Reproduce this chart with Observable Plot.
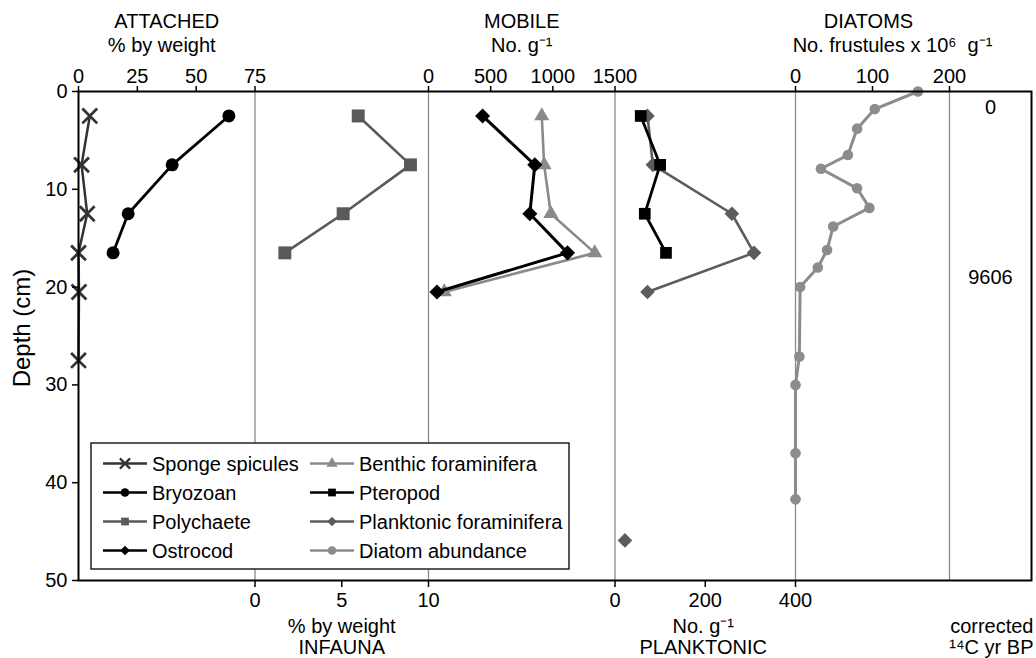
<!DOCTYPE html>
<html>
<head>
<meta charset="utf-8">
<script src="https://cdn.jsdelivr.net/npm/d3@7"></script>
<script src="https://cdn.jsdelivr.net/npm/@observablehq/plot@0.6"></script>
<style>
  html, body { margin: 0; padding: 0; background: #fff; overflow: hidden; }
  #chart { width: 1036px; height: 658px; }
</style>
</head>
<body>
<div id="chart"></div>
<script>
// ---------------- DATA ----------------
// Depth (cm) of samples and values per series
const spongeDepth = [2.5, 7.5, 12.5, 16.5, 20.5, 27.5];
const spongeValue = [4.8, 1.3, 3.7, 0, 0.2, 0];            // % by weight (attached)

const bryozoanDepth = [2.5, 7.5, 12.5, 16.5];
const bryozoanValue = [63.9, 39.8, 21.1, 14.7];            // % by weight (attached)

const polychaeteDepth = [2.5, 7.5, 12.5, 16.5];
const polychaeteValue = [5.95, 8.96, 5.08, 1.72];          // % by weight (infauna)

const ostracodDepth = [2.5, 7.5, 12.5, 16.5, 20.5];
const ostracodValue = [435, 855, 815, 1118, 68];           // No. g-1 (mobile)

const benthicDepth = [2.5, 7.5, 12.5, 16.5, 20.5];
const benthicValue = [911, 930, 984, 1337, 127];           // No. g-1 (mobile)

const pteropodDepth = [2.5, 7.5, 12.5, 16.5];
const pteropodValue = [57, 100, 66, 113];                  // No. g-1 (planktonic)

const planktonicDepth = [2.5, 7.5, 12.5, 16.5, 20.5, null, 45.9];
const planktonicValue = [72, 84, 259, 308, 72, null, 22];  // No. g-1 (planktonic); null = gap

const diatomDepth = [0, 1.8, 3.8, 6.5, 7.9, 9.9, 11.9, 13.8, 16.2, 18.0, 20.0, 27.1, 30.0, 37.0, 41.7];
const diatomValue = [159, 103, 80, 68, 33, 80, 96, 49, 41, 29, 6, 5, 0, 0, 0]; // frustules x10^6 g-1

const ageDepth = [1.6, 19.0];
const ageLabel = ["0", "9606"];

const depthTicks = [0, 10, 20, 30, 40, 50];
const attachedTicks = [0, 25, 50, 75];
const mobileTicks = [0, 500, 1000, 1500];
const diatomTicks = [0, 100, 200];
const infaunaTicks = [0, 5, 10];
const planktonicTicks = [0, 200, 400];

// ---------------- LAYOUT ----------------
const W = 953; // virtual width of the frame
const panels = {
  attached:   {domain: [0, 75],   range: [0, 176.5]},
  infauna:    {domain: [0, 10],   range: [176.5, 350]},
  mobile:     {domain: [0, 1500], range: [350, 536.5]},
  planktonic: {domain: [0, 400],  range: [536.5, 717]},
  diatoms:    {domain: [0, 200],  range: [717, 871]}
};
const pos = Object.fromEntries(Object.entries(panels).map(([k, p]) => [k, d3.scaleLinear(p.domain, p.range)]));
const center = k => (panels[k].range[0] + panels[k].range[1]) / 2;

const series = [
  {name: "Sponge spicules", panel: "attached", depth: spongeDepth, value: spongeValue, color: "#333", width: 2.5, symbol: "times", r: 6.8, stroke: true, col: 0, row: 0},
  {name: "Bryozoan", panel: "attached", depth: bryozoanDepth, value: bryozoanValue, color: "#000", width: 2.8, symbol: "circle", r: 6.5, col: 0, row: 1},
  {name: "Polychaete", panel: "infauna", depth: polychaeteDepth, value: polychaeteValue, color: "#5a5a5a", width: 2.6, symbol: "square", r: 7.3, col: 0, row: 2},
  {name: "Benthic foraminifera", panel: "mobile", depth: benthicDepth, value: benthicValue, color: "#8a8a8a", width: 2.6, symbol: "triangle", r: 5.6, col: 1, row: 0},
  {name: "Ostrocod", panel: "mobile", depth: ostracodDepth, value: ostracodValue, color: "#000", width: 3, symbol: "diamond2", r: 6.8, col: 0, row: 3},
  {name: "Planktonic foraminifera", panel: "planktonic", depth: planktonicDepth, value: planktonicValue, color: "#5c5c5c", width: 2.6, symbol: "diamond2", r: 6.6, col: 1, row: 2},
  {name: "Pteropod", panel: "planktonic", depth: pteropodDepth, value: pteropodValue, color: "#000", width: 2.8, symbol: "square", r: 6.6, col: 1, row: 1},
  {name: "Diatom abundance", panel: "diatoms", depth: diatomDepth, value: diatomValue, color: "#8c8c8c", width: 3, symbol: "circle", r: 5.3, col: 1, row: 3}
];

const marks = [];

// panel separators
const separators = [pos.attached(75), pos.infauna(10), pos.mobile(1500), pos.planktonic(400), pos.diatoms(200)];
marks.push(Plot.ruleX(separators, {stroke: "#8a8a8a", strokeWidth: 1.3}));

for (const s of series) {
  const rows = s.depth.map((d, i) => ({depth: d == null ? NaN : d, value: s.value[i]}));
  const xf = r => (r.value == null ? NaN : pos[s.panel](r.value));
  marks.push(Plot.line(rows, {x: xf, y: "depth", stroke: s.color, strokeWidth: s.width, curve: "linear"}));
  const valid = rows.filter(r => r.value != null);
  if (s.stroke) {
    marks.push(Plot.dot(valid, {x: xf, y: "depth", symbol: s.symbol, r: s.r, stroke: s.color, strokeWidth: 2.8, fill: "none"}));
  } else {
    marks.push(Plot.dot(valid, {x: xf, y: "depth", symbol: s.symbol, r: s.r, fill: s.color, stroke: "none"}));
  }
}

// age labels in right column
const ageX = (panels.diatoms.range[1] + W) / 2;
marks.push(Plot.text(ageDepth.map((d, i) => ({depth: d, t: ageLabel[i]})), {x: () => ageX, y: "depth", text: "t", fontSize: 20, lineAnchor: "middle", textAnchor: "middle"}));

marks.push(Plot.frame({stroke: "#000", strokeWidth: 2}));

// axes
marks.push(Plot.axisY(depthTicks, {tickSize: 6, tickPadding: 5, fontSize: 20, strokeWidth: 1.5, label: null}));

const topTicks = [
  ...attachedTicks.map(v => ({p: pos.attached(v), t: String(v)})),
  ...mobileTicks.map(v => ({p: pos.mobile(v), t: String(v)})),
  ...diatomTicks.map(v => ({p: pos.diatoms(v), t: String(v)}))
];
const topMap = new Map(topTicks.map(d => [d.p, d.t]));
marks.push(Plot.axisX(topTicks.map(d => d.p), {anchor: "top", tickSize: 6, tickPadding: 3, fontSize: 20, strokeWidth: 1.5, tickFormat: d => topMap.get(d), label: null}));

const botTicks = [
  ...infaunaTicks.map(v => ({p: pos.infauna(v), t: String(v)})),
  ...planktonicTicks.map(v => ({p: pos.planktonic(v), t: String(v)}))
];
const botMap = new Map(botTicks.map(d => [d.p, d.t]));
marks.push(Plot.axisX(botTicks.map(d => d.p), {anchor: "bottom", tickSize: 7, tickPadding: 5, fontSize: 20, strokeWidth: 1.5, tickFormat: d => botMap.get(d), label: null}));

// titles
const titles = [
  {x: center("attached"), t: "ATTACHED", fa: "top", dy: -70, dx: 0, ta: "middle"},
  {x: center("attached"), t: "% by weight", fa: "top", dy: -46, dx: -5, ta: "middle"},
  {x: center("mobile"), t: "MOBILE", fa: "top", dy: -70, dx: 0, ta: "middle"},
  {x: center("mobile"), t: "No. g\u207B\u00B9", fa: "top", dy: -46, dx: 0, ta: "middle"},
  {x: center("diatoms"), t: "DIATOMS", fa: "top", dy: -70, dx: -4, ta: "middle"},
  {x: center("diatoms"), t: "No. frustules x 10\u2076  g\u207B\u00B9", fa: "top", dy: -46, dx: 20, ta: "middle"},
  {x: center("infauna"), t: "% by weight", fa: "bottom", dy: 46, dx: 0, ta: "middle"},
  {x: center("infauna"), t: "INFAUNA", fa: "bottom", dy: 67, dx: 0, ta: "middle"},
  {x: center("planktonic"), t: "No. g\u207B\u00B9", fa: "bottom", dy: 46, dx: -2, ta: "middle"},
  {x: center("planktonic"), t: "PLANKTONIC", fa: "bottom", dy: 67, dx: -2, ta: "middle"},
  {x: W + 2, t: "corrected", fa: "bottom", dy: 46, dx: 0, ta: "end"},
  {x: W + 2, t: "\u00B9\u2074C yr BP", fa: "bottom", dy: 67, dx: 0, ta: "end"}
];
for (const d of titles) {
  marks.push(Plot.text([d], {x: "x", text: "t", frameAnchor: d.fa, dy: d.dy, dx: d.dx, fontSize: 20, lineAnchor: "middle", textAnchor: d.ta}));
}

marks.push(Plot.text(["Depth (cm)"], {frameAnchor: "left", dx: -56, dy: -8, rotate: -90, fontSize: 24, lineAnchor: "middle", textAnchor: "middle"}));

const chart = Plot.plot({
  width: 1036,
  height: 658,
  marginLeft: 78,
  marginRight: 5,
  marginTop: 91,
  marginBottom: 78,
  style: {fontFamily: "'Liberation Sans', Arial, Helvetica, sans-serif", fontSize: "20px", color: "#000", background: "#fff", overflow: "visible"},
  x: {domain: [0, W]},
  y: {domain: [0, 50], reverse: true},
  marks
});

document.getElementById("chart").appendChild(chart);

// ---------------- LEGEND ----------------
(function() {
  const svg = d3.select(chart);
  const lx = 78 + 13, ly = 443;
  const g = svg.append("g").attr("transform", `translate(${lx},${ly})`)
    .attr("font-family", "'Liberation Sans', Arial, Helvetica, sans-serif").attr("font-size", 20)
    .attr("text-anchor", "start");
  g.append("rect").attr("width", 478).attr("height", 126).attr("fill", "#fff").attr("stroke", "#222").attr("stroke-width", 1.5);
  const colX = [12, 219];
  const rowY = [20.5, 49.5, 78.5, 107.5];
  const sym = {times: d3.symbolTimes, circle: d3.symbolCircle, square: d3.symbolSquare, triangle: d3.symbolTriangle, diamond2: d3.symbolDiamond2};
  for (const s of series) {
    const x0 = colX[s.col], y0 = rowY[s.row];
    const e = g.append("g").attr("transform", `translate(${x0},${y0})`);
    e.append("line").attr("x1", 0).attr("x2", 44).attr("y1", 0).attr("y2", 0).attr("stroke", s.color).attr("stroke-width", 2.6);
    const size = s.symbol === "times" ? 70 : s.symbol === "triangle" ? 55 : 60;
    const p = e.append("path").attr("transform", "translate(22,0)").attr("d", d3.symbol(sym[s.symbol], size)());
    if (s.stroke) p.attr("fill", "none").attr("stroke", s.color).attr("stroke-width", 2.2);
    else p.attr("fill", s.color);
    e.append("text").attr("x", 49).attr("y", 0).attr("dy", "0.35em").attr("fill", "#000").attr("text-anchor", "start").text(s.name);
  }
})();
</script>
</body>
</html>
